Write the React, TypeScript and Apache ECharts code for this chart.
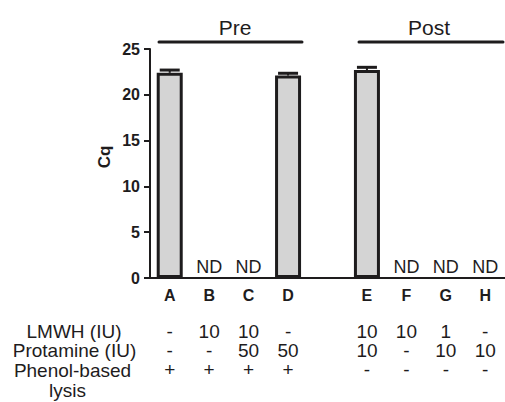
import React, { useEffect, useRef } from "react";
import * as echarts from "echarts";

const categories = ["A", "B", "C", "D", "", "E", "F", "G", "H"];
const cqValues: (number | null)[] = [22.4, null, null, 22.1, null, 22.7, null, null, null];
const cqErrors = [0.3, 0, 0, 0.25, 0, 0.3, 0, 0, 0];
const barNotes = ["", "ND", "ND", "", "", "", "ND", "ND", "ND"];
const lmwhRow = ["-", "10", "10", "-", "", "10", "10", "1", "-"];
const protamineRow = ["-", "-", "50", "50", "", "10", "-", "10", "10"];
const phenolRow = ["+", "+", "+", "+", "", "-", "-", "-", "-"];
const rowLabels = ["LMWH (IU)", "Protamine (IU)", "Phenol-based", "lysis"];
const groupLabels = ["Pre", "Post"];
const yAxisTitle = "Cq";
const yTicks = { min: 0, max: 25, interval: 5 };

const INK = "#1e1c1d";
const FONT = "'Liberation Sans', Arial, sans-serif";

export default function App() {
  const ref = useRef<HTMLDivElement>(null);
  useEffect(() => {
    if (!ref.current) return;
    const chart = echarts.init(ref.current, undefined, { renderer: "svg" });

    const barData = categories.map((c, i) => {
      const v = cqValues[i];
      if (v == null) {
        return {
          value: 0,
          itemStyle: { color: "transparent", borderWidth: 0 },
          label: { show: barNotes[i] !== "", formatter: barNotes[i] },
        };
      }
      return { value: v, label: { show: false } };
    });

    const rowAxis = (data: string[], offset: number) => ({
      type: "category",
      data,
      gridIndex: 0,
      position: "bottom",
      offset,
      axisLine: { show: false },
      axisTick: { show: false },
      axisLabel: {
        interval: 0,
        margin: 0,
        color: INK,
        fontSize: 19,
        fontFamily: FONT,
      },
    });

    chart.setOption({
      animation: false,
      grid: { left: 150, top: 49, width: 358, height: 229 },
      xAxis: [
        {
          type: "category",
          data: categories,
          position: "bottom",
          axisLine: { lineStyle: { color: INK, width: 2 } },
          axisTick: { length: 6, lineStyle: { color: INK, width: 2 }, alignWithLabel: true, interval: 0 },
          axisLabel: {
            interval: 0,
            margin: 9,
            color: INK,
            fontSize: 16,
            fontWeight: "bold",
            fontFamily: FONT,
          },
        },
        rowAxis(lmwhRow, 44),
        rowAxis(protamineRow, 63),
        rowAxis(phenolRow, 82),
      ],
      yAxis: {
        type: "value",
        min: yTicks.min,
        max: yTicks.max,
        interval: yTicks.interval,
        splitLine: { show: false },
        axisLine: { show: true, lineStyle: { color: INK, width: 2 } },
        axisTick: { show: true, length: 6, lineStyle: { color: INK, width: 2 } },
        axisLabel: { margin: 10, color: INK, fontSize: 16, fontWeight: "bold", fontFamily: FONT },
      },
      series: [
        {
          type: "bar",
          data: barData,
          barWidth: 26,
          itemStyle: { color: "#d4d4d4", borderColor: INK, borderWidth: 3 },
          label: {
            position: "top",
            distance: 2,
            color: INK,
            fontSize: 18,
            fontFamily: FONT,
          },
          z: 2,
        },
        {
          type: "custom",
          data: categories.map((c, i) => [i, cqValues[i] ?? 0, cqErrors[i]]),
          z: 3,
          renderItem: (params: any, api: any) => {
            const idx = api.value(0);
            const v = api.value(1);
            const e = api.value(2);
            if (!e) return null;
            const p0 = api.coord([idx, v]);
            const p1 = api.coord([idx, v + e]);
            const half = 10;
            return {
              type: "group",
              children: [
                {
                  type: "line",
                  shape: { x1: p0[0], y1: p0[1], x2: p1[0], y2: p1[1] },
                  style: { stroke: INK, lineWidth: 2 },
                },
                {
                  type: "line",
                  shape: { x1: p1[0] - half, y1: p1[1], x2: p1[0] + half, y2: p1[1] },
                  style: { stroke: INK, lineWidth: 3 },
                },
              ],
            };
          },
        },
      ],
      graphic: [
        { type: "line", shape: { x1: 159, y1: 42, x2: 302, y2: 42 }, style: { stroke: INK, lineWidth: 3, lineCap: "round" } },
        { type: "line", shape: { x1: 359, y1: 42, x2: 503, y2: 42 }, style: { stroke: INK, lineWidth: 3, lineCap: "round" } },
        { type: "text", x: 235, y: 27, style: { text: groupLabels[0], fill: INK, fontSize: 21, fontFamily: FONT, textAlign: "center", textVerticalAlign: "middle" } },
        { type: "text", x: 429, y: 27, style: { text: groupLabels[1], fill: INK, fontSize: 21, fontFamily: FONT, textAlign: "center", textVerticalAlign: "middle" } },
        { type: "text", x: 104, y: 157, rotation: Math.PI / 2, style: { text: yAxisTitle, fill: INK, fontSize: 17, fontWeight: "bold", fontFamily: FONT, textAlign: "center", textVerticalAlign: "middle" } },
        { type: "text", x: 74, y: 331, style: { text: rowLabels[0], fill: INK, fontSize: 19, fontFamily: FONT, textAlign: "center", textVerticalAlign: "middle" } },
        { type: "text", x: 74.5, y: 350, style: { text: rowLabels[1], fill: INK, fontSize: 19, fontFamily: FONT, textAlign: "center", textVerticalAlign: "middle" } },
        { type: "text", x: 72.5, y: 370, style: { text: rowLabels[2], fill: INK, fontSize: 19, fontFamily: FONT, textAlign: "center", textVerticalAlign: "middle" } },
        { type: "text", x: 67.5, y: 390, style: { text: rowLabels[3], fill: INK, fontSize: 19, fontFamily: FONT, textAlign: "center", textVerticalAlign: "middle" } },
      ],
    });
    return () => chart.dispose();
  }, []);
  return <div ref={ref} style={{ position: "fixed", left: 0, top: 0, width: 505, height: 402, background: "#fff" }} />;
}
